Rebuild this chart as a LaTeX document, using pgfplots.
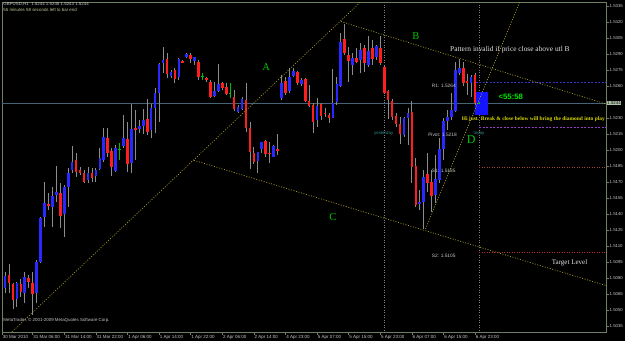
\documentclass[border=0pt]{standalone}
\usepackage{fontspec}
\setmainfont{Liberation Sans}
\newfontfamily\tnr{Liberation Serif}
\usepackage{pgfplots}
\pgfplotsset{compat=1.18}
\usepackage{pgfplotstable}
\usetikzlibrary{backgrounds,calc}

\definecolor{framec}{RGB}{110,128,100}
\definecolor{labgray}{RGB}{200,200,200}
\definecolor{upc}{RGB}{40,40,255}
\definecolor{dnc}{RGB}{255,30,30}
\definecolor{wickc}{RGB}{140,140,140}
\definecolor{dojic}{RGB}{0,190,0}
\definecolor{trendc}{RGB}{165,155,40}
\definecolor{pricec}{RGB}{70,100,120}
\definecolor{sepc}{RGB}{130,130,130}
\definecolor{letc}{RGB}{0,200,0}
\definecolor{r1c}{RGB}{50,50,200}
\definecolor{pvc}{RGB}{150,60,200}
\definecolor{s1c}{RGB}{160,70,50}
\definecolor{s2c}{RGB}{190,40,40}
\definecolor{tealc}{RGB}{50,140,140}
\definecolor{yelc}{RGB}{215,215,0}
\definecolor{pboxc}{RGB}{175,195,170}
\definecolor{boxblue}{RGB}{20,20,255}

\newcommand{\fs}[1]{\fontsize{#1}{#1}\selectfont}

\pgfplotstableread{
i O H L C
0 1.50703 1.50859 1.50656 1.50819
3 1.50600 1.50765 1.50531 1.50750
5 1.50656 1.50859 1.50563 1.50806
8 1.50656 1.50969 1.50563 1.50953
9 1.50953 1.51374 1.50938 1.51359
10 1.51369 1.51703 1.51281 1.51500
12 1.51468 1.51656 1.51281 1.51571
13 1.51578 1.51850 1.51515 1.51609
15 1.51397 1.51672 1.51187 1.51656
16 1.51656 1.51828 1.51468 1.51781
17 1.51812 1.52037 1.51781 1.51890
21 1.51719 1.51843 1.51693 1.51787
23 1.51756 1.51828 1.51703 1.51812
24 1.51822 1.52021 1.51812 1.51928
25 1.51906 1.52203 1.51890 1.52119
28 1.51806 1.52047 1.51796 1.52021
30 1.52037 1.52328 1.52016 1.52109
32 1.51881 1.52428 1.51781 1.52194
34 1.52194 1.52281 1.52156 1.52228
35 1.52225 1.52381 1.52150 1.52281
37 1.52187 1.52428 1.52109 1.52391
38 1.52391 1.52578 1.52156 1.52531
39 1.52537 1.52818 1.52265 1.52806
40 1.52818 1.52963 1.52719 1.52844
42 1.52696 1.52750 1.52672 1.52734
44 1.52681 1.52859 1.52656 1.52850
46 1.52869 1.52906 1.52859 1.52900
48 1.52837 1.52874 1.52797 1.52869
53 1.52509 1.52640 1.52499 1.52553
54 1.52556 1.52806 1.52546 1.52619
59 1.52359 1.52422 1.52344 1.52406
60 1.52387 1.52499 1.52375 1.52475
64 1.51897 1.51984 1.51787 1.51978
65 1.52006 1.52078 1.51969 1.52075
68 1.51937 1.52047 1.51931 1.52040
70 1.52484 1.52703 1.52469 1.52631
72 1.52553 1.52766 1.52531 1.52687
73 1.52694 1.52766 1.52681 1.52740
75 1.52616 1.52672 1.52603 1.52656
79 1.52281 1.52484 1.52218 1.52412
83 1.52303 1.52756 1.52297 1.52438
84 1.52453 1.52687 1.52422 1.52616
85 1.52603 1.53094 1.52593 1.53009
88 1.52797 1.52906 1.52703 1.52865
90 1.52844 1.53006 1.52719 1.52937
92 1.52797 1.53069 1.52781 1.52928
94 1.52869 1.52984 1.52844 1.52975
101 1.52140 1.52312 1.52124 1.52297
102 1.52297 1.52391 1.52047 1.52349
105 1.51491 1.51625 1.51437 1.51515
106 1.51515 1.51812 1.51256 1.51749
109 1.51578 1.51953 1.51500 1.51725
110 1.51719 1.52109 1.51688 1.52006
111 1.52009 1.52300 1.51906 1.52272
112 1.52272 1.52375 1.52187 1.52309
113 1.52309 1.52534 1.52281 1.52375
114 1.52368 1.52828 1.52359 1.52750
115 1.52724 1.52850 1.52703 1.52766
118 1.52625 1.52703 1.52499 1.52687
}\upbars

\pgfplotstableread{
i O H L C
1 1.50828 1.50931 1.50656 1.50750
2 1.50741 1.50750 1.50506 1.50594
4 1.50741 1.50788 1.50624 1.50671
6 1.50803 1.50828 1.50703 1.50759
7 1.50750 1.50859 1.50453 1.50650
11 1.51491 1.51594 1.51437 1.51472
14 1.51599 1.51688 1.51266 1.51381
18 1.51906 1.51969 1.51749 1.51796
19 1.51812 1.51838 1.51765 1.51787
20 1.51781 1.51812 1.51688 1.51703
22 1.51781 1.51828 1.51703 1.51734
26 1.52109 1.52203 1.51937 1.51974
27 1.51990 1.52016 1.51759 1.51838
31 1.52100 1.52265 1.51796 1.51869
33 1.52203 1.52375 1.51906 1.52187
36 1.52288 1.52475 1.52140 1.52171
41 1.52850 1.52906 1.52672 1.52712
43 1.52750 1.52766 1.52625 1.52665
45 1.52837 1.52844 1.52813 1.52818
47 1.52890 1.52906 1.52813 1.52850
49 1.52828 1.52844 1.52656 1.52681
51 1.52672 1.52687 1.52640 1.52653
52 1.52640 1.52656 1.52484 1.52499
55 1.52625 1.52634 1.52562 1.52584
56 1.52593 1.52625 1.52515 1.52522
58 1.52494 1.52562 1.52368 1.52381
61 1.52469 1.52625 1.52171 1.52203
62 1.52203 1.52265 1.51819 1.51984
63 1.51969 1.52031 1.51869 1.51890
66 1.52084 1.52094 1.51937 1.51959
67 1.51974 1.52078 1.51875 1.51959
69 1.52012 1.52147 1.51953 1.51990
71 1.52647 1.52687 1.52515 1.52537
74 1.52734 1.52743 1.52609 1.52625
76 1.52663 1.52672 1.52447 1.52462
77 1.52459 1.52609 1.52400 1.52412
78 1.52422 1.52438 1.52162 1.52265
80 1.52428 1.52438 1.52281 1.52321
81 1.52349 1.52391 1.52312 1.52337
82 1.52328 1.52349 1.52256 1.52297
86 1.53040 1.53181 1.52890 1.52906
87 1.52890 1.52963 1.52640 1.52837
89 1.52859 1.52953 1.52813 1.52828
91 1.52953 1.52984 1.52734 1.52813
93 1.52953 1.53031 1.52797 1.52850
95 1.52959 1.53069 1.52797 1.52813
96 1.52781 1.52797 1.52525 1.52537
97 1.52553 1.52562 1.52288 1.52469
98 1.52462 1.52475 1.52281 1.52306
99 1.52321 1.52344 1.52218 1.52244
100 1.52241 1.52312 1.52056 1.52147
103 1.52359 1.52462 1.51688 1.51843
104 1.51850 1.51922 1.51463 1.51484
107 1.51775 1.51972 1.51609 1.51688
108 1.51703 1.51812 1.51421 1.51569
116 1.52766 1.52828 1.52600 1.52625
117 1.52647 1.52709 1.52515 1.52625
119 1.52703 1.52719 1.52422 1.52438
}\dnbars

\pgfplotstableread{
i O H L C
29 1.52009 1.52068 1.51906 1.52009
50 1.52694 1.52719 1.52656 1.52694
57 1.52534 1.52625 1.52484 1.52534
120 1.5244 1.5245 1.5243 1.5244
}\dojibars

\begin{document}
\begin{tikzpicture}
\begin{axis}[
  scale only axis, width=604pt, height=330pt,
  xmin=-0.76, xmax=152.15, ymin=1.502935, ymax=1.53387,
  clip mode=individual,
  axis line style={framec, line width=0.7pt},
  tick style={framec, line width=0.6pt},
  tick align=outside, major tick length=2.5pt,
  xtick pos=bottom, ytick pos=right, yticklabel pos=right,
  xtick={-0.76,7,15,23,31,39,47,55,63,71,79,87,95,103,111,119},
  xticklabels={30 Mar 2010,31 Mar 06:00,31 Mar 14:00,31 Mar 22:00,1 Apr 06:00,1 Apr 14:00,1 Apr 22:00,2 Apr 06:00,2 Apr 14:00,4 Apr 23:00,5 Apr 07:00,5 Apr 15:00,5 Apr 23:00,6 Apr 07:00,6 Apr 15:00,6 Apr 23:00},
  ytick={1.5035,1.5050,1.5065,1.5080,1.5095,1.5110,1.5125,1.5140,1.5155,1.5170,1.5185,1.5200,1.5215,1.5230,1.5260,1.5275,1.5290,1.5305,1.5320,1.5335},
  scaled y ticks=false,
  yticklabel style={font=\fs{4.3}, text=labgray, inner sep=1pt, /pgf/number format/.cd, fixed, fixed zerofill, precision=4, assume math mode=true},
  xticklabel style={font=\fs{4.5}, text=labgray, anchor=north west, inner sep=0.6pt},
]
\coordinate (sw) at (rel axis cs:0,0);
% separators
\addplot[sepc, line width=0.5pt, dash pattern=on 1pt off 1.5pt] coordinates {(96,1.50) (96,1.54)};
\addplot[sepc, line width=0.5pt, dash pattern=on 1pt off 1.5pt] coordinates {(120.1,1.50) (120.1,1.54)};
% current price line
\addplot[pricec, line width=0.45pt] coordinates {(-1,1.5244) (153,1.5244)};
% pivot levels
\addplot[r1c, line width=0.6pt, dash pattern=on 2pt off 1.5pt] coordinates {(119.2,1.5263) (153,1.5263)};
\addplot[pvc, line width=0.6pt, dash pattern=on 2pt off 1.5pt] coordinates {(120.1,1.5221) (153,1.5221)};
\addplot[s1c, line width=0.6pt, dash pattern=on 1pt off 1.5pt] coordinates {(120.1,1.5184) (153,1.5184)};
\addplot[s2c, line width=0.6pt, dash pattern=on 1pt off 1.5pt] coordinates {(120.1,1.5104) (153,1.5104)};
% timer box
\addplot[fill=boxblue, draw=none] coordinates {(119.0,1.52541) (122.2,1.52541) (122.2,1.52328) (119.0,1.52328)} -- cycle;
% wicks
\addplot[draw=none, error bars/.cd, y dir=plus, y explicit, error mark=none, error bar style={draw=wickc, line width=0.8pt}] table[x=i, y=L, y error plus expr=\thisrow{H}-\thisrow{L}] {\upbars};
\addplot[draw=none, error bars/.cd, y dir=plus, y explicit, error mark=none, error bar style={draw=wickc, line width=0.8pt}] table[x=i, y=L, y error plus expr=\thisrow{H}-\thisrow{L}] {\dnbars};
\addplot[draw=none, error bars/.cd, y dir=plus, y explicit, error mark=none, error bar style={draw=dojic, line width=0.8pt}] table[x=i, y=L, y error plus expr=\thisrow{H}-\thisrow{L}] {\dojibars};
% bodies
\addplot[draw=none, error bars/.cd, y dir=plus, y explicit, error mark=none, error bar style={draw=upc, line width=2.6pt}] table[x=i, y=O, y error plus expr=\thisrow{C}-\thisrow{O}] {\upbars};
\addplot[draw=none, error bars/.cd, y dir=plus, y explicit, error mark=none, error bar style={draw=dnc, line width=2.6pt}] table[x=i, y=C, y error plus expr=\thisrow{O}-\thisrow{C}] {\dnbars};
\addplot[only marks, mark=-, mark size=1.3pt, mark options={draw=dojic, line width=0.8pt}] table[x=i, y=O] {\dojibars};
% trend lines
\addplot[trendc, line width=0.7pt, dash pattern=on 1pt off 1.6pt] coordinates {(1.75,1.50294) (90,1.53387)};
\addplot[trendc, line width=0.7pt, dash pattern=on 1pt off 1.6pt] coordinates {(47.85,1.51903) (152.15,1.50729)};
\addplot[trendc, line width=0.7pt, dash pattern=on 1pt off 1.6pt] coordinates {(85.06,1.53204) (152.15,1.52431)};
\addplot[trendc, line width=0.7pt, dash pattern=on 1pt off 1.6pt] coordinates {(106.46,1.51259) (130.3,1.53387)};
% texts
\node[anchor=west, inner sep=0pt, font=\fs{4.4}, text=labgray] at (axis cs:-0.45,1.53362) {GBPUSD,H1\ \ 1.5244 1.5245 1.5243 1.5244};
\node[anchor=west, inner sep=0pt, font=\fs{4.4}, text={rgb,255:red,190;green,200;blue,150}] at (axis cs:-0.45,1.53309) {55 minutes 58 seconds left to bar end};
\node[anchor=west, inner sep=0pt, font=\fs{4.4}, text=labgray] at (axis cs:-0.45,1.50401) {MetaTrader, © 2001-2009 MetaQuotes Software Corp.};
\node[font=\tnr\fs{10.5}, text=letc] at (axis cs:66.1,1.52775) {A};
\node[font=\tnr\fs{10.5}, text=letc] at (axis cs:104.0,1.53069) {B};
\node[font=\tnr\fs{10.5}, text=letc] at (axis cs:83.0,1.51369) {C};
\node[anchor=west, inner sep=0pt, font=\fs{4.4}, text=tealc] at (axis cs:93.4,1.52159) {yesterday};
\node[anchor=west, inner sep=0pt, font=\fs{4.4}, text=tealc] at (axis cs:118.6,1.52159) {today};
\node[font=\tnr\fs{12}, text=letc] at (axis cs:118.0,1.52100) {D};
\node[anchor=west, inner sep=0pt, font=\tnr\fs{7.4}, text={rgb,255:red,230;green,230;blue,230}] at (axis cs:112.66,1.52937) {Pattern invalid if price close above utl B};
\node[anchor=west, inner sep=0pt, font=\tnr\bfseries\fs{5.45}, text=yelc] at (axis cs:115.6,1.52288) {Hi just. Break \& close below will bring the diamond into play};
\node[anchor=west, inner sep=0pt, font=\tnr\fs{7}, text={rgb,255:red,230;green,230;blue,230}] at (axis cs:138.4,1.50938) {Target Level};
\node[anchor=west, inner sep=0pt, font=\bfseries\fs{7.8}, text={rgb,255:red,0;green,230;blue,0}] at (axis cs:124.9,1.52499) {<55:58};
\node[anchor=west, inner sep=0pt, font=\fs{4.8}, text=labgray] at (axis cs:108.0,1.52600) {R1: 1.5264};
\node[anchor=west, inner sep=0pt, font=\fs{4.8}, text=labgray] at (axis cs:107.1,1.52140) {Pivot: 1.5218};
\node[anchor=west, inner sep=0pt, font=\fs{4.8}, text=labgray] at (axis cs:108.0,1.51806) {S1: 1.5185};
\node[anchor=west, inner sep=0pt, font=\fs{4.8}, text=labgray] at (axis cs:108.0,1.51006) {S2: 1.5105};
\node[anchor=west, fill=pboxc, text=black, font=\fs{4.3}, inner sep=0.7pt] at (axis cs:152.3,1.5244) {1.5244};
\end{axis}
\pgfresetboundingbox
\begin{scope}[on background layer]
\fill[black] ($(sw)+(-2pt,-9pt)$) rectangle ($(sw)+(623pt,332pt)$);
\end{scope}
\path[use as bounding box] ($(sw)+(-2pt,-9pt)$) rectangle ($(sw)+(623pt,332pt)$);
\end{tikzpicture}
\end{document}
